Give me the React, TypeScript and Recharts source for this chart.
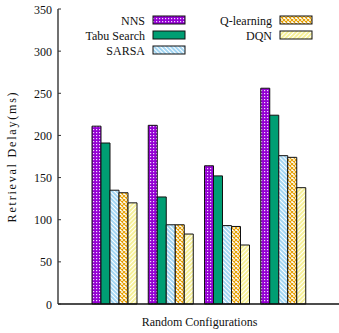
import { BarChart, Bar, XAxis, YAxis, Legend } from 'recharts';

// x categories (no tick labels in the figure)
const configs = ['Config 1', 'Config 2', 'Config 3', 'Config 4'];

// retrieval delay (ms) per method
const nnsDelay = [211, 212, 164, 256];
const tabuDelay = [191, 127, 152, 224];
const sarsaDelay = [135, 94, 93, 176];
const qlearningDelay = [132, 94, 92, 174];
const dqnDelay = [120, 83, 70, 138];

const yTicks = [0, 50, 100, 150, 200, 250, 300, 350];

const SERIES = [
  { key: 'nns', name: 'NNS', fill: 'url(#pat-nns)' },
  { key: 'tabu', name: 'Tabu Search', fill: '#009e73' },
  { key: 'sarsa', name: 'SARSA', fill: 'url(#pat-sarsa)' },
  { key: 'qlearning', name: 'Q-learning', fill: 'url(#pat-ql)' },
  { key: 'dqn', name: 'DQN', fill: 'url(#pat-dqn)' },
];

const data = configs.map((c, i) => ({
  config: c,
  nns: nnsDelay[i],
  tabu: tabuDelay[i],
  sarsa: sarsaDelay[i],
  qlearning: qlearningDelay[i],
  dqn: dqnDelay[i],
}));

const FS = 12;
const txt = { fontFamily: "'Liberation Serif', serif", fontSize: FS } as const;
const PLOT_LEFT = 58;
const PLOT_RIGHT = 341;

function LegendBox() {
  return (
    <svg width={339} height={60} style={{ display: 'block' }}>
      {SERIES.map((s, i) => {
        const col = i < 3 ? 0 : 1;
        const row = i % 3;
        const textEnd = col === 0 ? 145 : 272;
        const cy = 20 + row * 15;
        return (
          <g key={s.key}>
            <text x={textEnd} y={cy + 4.5} textAnchor="end" style={txt} fill="#111">
              {s.name}
            </text>
            <rect x={textEnd + 8} y={cy - 4} width={32} height={8} fill={s.fill} stroke="#111" strokeWidth={1} />
          </g>
        );
      })}
    </svg>
  );
}

export default function App() {
  return (
    <div style={{ position: 'absolute', left: 0, top: 0, width: 339, height: 333, overflow: 'hidden', background: '#fff' }}>
      <BarChart
        width={341}
        height={333}
        data={data}
        margin={{ top: 9, right: 0, bottom: 0, left: 0 }}
        barCategoryGap={5}
        barGap={0}
      >
        <defs>
          <pattern id="pat-nns" width={3} height={3} patternUnits="userSpaceOnUse">
            <rect width={3} height={3} fill="#9400d3" />
            <rect x={0} y={0} width={1.2} height={1.2} fill="#f2d9ff" />
          </pattern>
          <pattern id="pat-sarsa" width={3} height={3} patternUnits="userSpaceOnUse" patternTransform="rotate(-45)">
            <rect width={3} height={3} fill="#fff" />
            <line x1={1} y1={0} x2={1} y2={3} stroke="#56b4e9" strokeWidth={1.1} />
          </pattern>
          <pattern id="pat-ql" width={4} height={4} patternUnits="userSpaceOnUse">
            <rect width={4} height={4} fill="#fff" />
            <path d="M0,0 L4,4 M4,0 L0,4" stroke="#e69f00" strokeWidth={1.1} />
          </pattern>
          <pattern id="pat-dqn" width={3} height={3} patternUnits="userSpaceOnUse" patternTransform="rotate(45)">
            <rect width={3} height={3} fill="#fff" />
            <line x1={1} y1={0} x2={1} y2={3} stroke="#f0e442" strokeWidth={1.1} />
          </pattern>
        </defs>
        <XAxis
          dataKey="config"
          height={29}
          padding={{ left: 29, right: 29 }}
          tick={false}
          tickLine={false}
          axisLine={{ stroke: '#111', strokeWidth: 1.3 }}
          label={{
            content: (p: any) => {
              const vb = p.viewBox;
              return (
                <text x={vb.x + vb.width / 2} y={vb.y + 22} textAnchor="middle" style={txt} fill="#111">
                  Random Configurations
                </text>
              );
            },
          }}
        />
        <XAxis
          xAxisId="top"
          orientation="top"
          dataKey="config"
          height={0}
          tick={false}
          tickLine={false}
          axisLine={{ stroke: '#333', strokeWidth: 1 }}
        />
        <YAxis
          width={58}
          domain={[0, 350]}
          ticks={yTicks}
          interval={0}
          tickSize={0}
          tickMargin={6}
          tickLine={false}
          axisLine={{ stroke: '#111', strokeWidth: 1.2 }}
          tick={(p: any) => (
            <g>
              <line x1={PLOT_LEFT} x2={PLOT_LEFT + 3} y1={p.y} y2={p.y} stroke="#333" />
              <text x={p.x} y={p.y + 4.5} textAnchor="end" style={txt} fill="#111">
                {p.payload.value}
              </text>
            </g>
          )}
          label={{
            content: (p: any) => {
              const vb = p.viewBox;
              const cy = vb.y + vb.height / 2;
              return (
                <text
                  x={16}
                  y={cy}
                  transform={`rotate(-90, 16, ${cy})`}
                  textAnchor="middle"
                  style={{ ...txt, letterSpacing: 1.8 }}
                  fill="#111"
                >
                  Retrieval Delay(ms)
                </text>
              );
            },
          }}
        />
        <YAxis
          yAxisId="right"
          orientation="right"
          width={0}
          domain={[0, 350]}
          ticks={yTicks}
          interval={0}
          tickSize={0}
          tickLine={false}
          axisLine={false}
          tick={(p: any) => (
            <line x1={PLOT_RIGHT - 3.5} x2={PLOT_RIGHT} y1={p.y} y2={p.y} stroke="#333" />
          )}
        />
        <Legend
          layout="vertical"
          align="center"
          verticalAlign="middle"
          wrapperStyle={{ left: 0, top: 0, width: 339, height: 60 }}
          content={() => <LegendBox />}
        />
        {SERIES.map((s) => (
          <Bar
            key={s.key}
            dataKey={s.key}
            name={s.name}
            fill={s.fill}
            stroke="#111"
            strokeWidth={1}
            isAnimationActive={false}
          />
        ))}
      </BarChart>
    </div>
  );
}
